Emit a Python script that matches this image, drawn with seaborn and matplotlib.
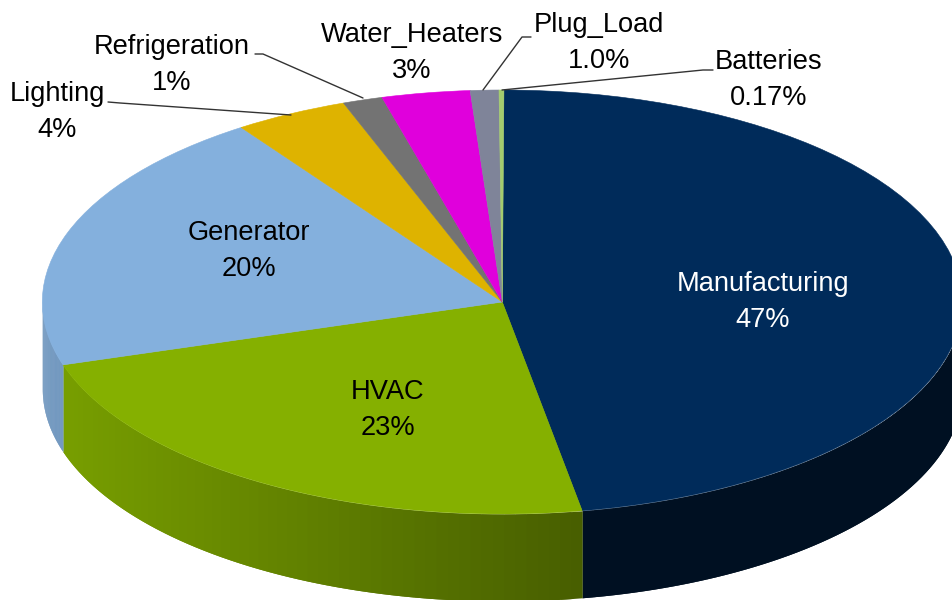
import numpy as np
import seaborn as sns
import matplotlib.pyplot as plt

# Values (slice angles), and the text shown on it
categories = ['Manufacturing', 'HVAC', 'Generator', 'Lighting', 'Refrigeration',
              'Water_Heaters', 'Plug_Load', 'Batteries']
values = [47.2, 23.0, 20.2, 4.0, 1.4, 3.1, 1.0, 0.17]
pct_labels = ['47%', '23%', '20%', '4%', '1%', '3%', '1.0%', '0.17%']
colors = ['#002B5A', '#85B000', '#84B0DD', '#DEB300', '#737373', '#E000DC', '#7F8499', '#A3CC6E']

# Shade of the side wall at the left and right end of each slice
wall_left = [0.38, 0.90, 0.87, 0.8, 0.8, 0.8, 0.8, 0.8]
wall_right = [0.38, 0.54, 0.87, 0.8, 0.8, 0.8, 0.8, 0.8]

# Pixel geometry of the pie
W, H = 952, 600
CX, CY, RX, RY = 502.3, 302, 460, 212
DEPTH = 87 / RY
START_ANGLE = 89.8


def px(x, y):
    return (x - CX) / RX, (CY - y) / RY


def draw_walls(ax):
    offset = np.radians(90 - START_ANGLE)
    edges = np.cumsum([0] + values) / sum(values) * 2 * np.pi + offset
    for i, color in enumerate(colors):
        lo, hi = max(edges[i], np.pi / 2), min(edges[i + 1], 3 * np.pi / 2)
        if hi <= lo:
            continue
        t = np.linspace(lo, hi, 60)
        x, y = np.sin(t), np.cos(t)
        xmin, xmax = x.min(), x.max()
        rgb = np.array(sns.color_palette([color])[0])
        # strips overlap the next one so no seams show; drawn so they end at the slice edge
        for k in range(len(t) - 1):
            f = (x[k] - xmin) / max(xmax - xmin, 1e-6)
            shade = wall_left[i] + (wall_right[i] - wall_left[i]) * f
            ax.fill_between(x[k:k + 3], y[k:k + 3], y[k:k + 3] - DEPTH,
                            color=rgb * shade, linewidth=0, zorder=1)


def draw_labels(ax):
    # (x, y) of the name line, in pixels; second line sits 36 px lower
    spots = [(763, 284), (388, 392), (248.5, 233), (57, 94),
             (172, 47), (412, 35), (599, 25), (769, 62)]
    for i, name in enumerate(categories):
        c = 'white' if name == 'Manufacturing' else 'black'
        x, y = spots[i]
        ax.text(*px(x, y), name, color=c, fontsize=19.6, ha='center', va='center', zorder=5)
        ax.text(*px(x, y + 36), pct_labels[i], color=c, fontsize=19.6,
                ha='center', va='center', zorder=5)


def draw_leaders(ax):
    leaders = [[(108, 102), (120, 103), (291, 115)],
               [(255, 54), (263, 54), (363, 98)],
               [(531, 37), (522, 37), (483, 90)],
               [(713, 70), (703, 70), (502, 90)]]
    for pts in leaders:
        xy = np.array([px(*p) for p in pts])
        ax.plot(xy[:, 0], xy[:, 1], color='#333333', linewidth=1, zorder=4)


def main():
    sns.set_theme(style='white')
    plt.rcParams['font.family'] = ['Liberation Sans', 'DejaVu Sans']

    fig = plt.figure(figsize=(W / 100, H / 100), dpi=100)
    ax = fig.add_axes([0, 0, 1, 1])

    draw_walls(ax)
    wedges, _ = ax.pie(values, colors=colors, startangle=START_ANGLE, counterclock=False, radius=1,
                       wedgeprops={'zorder': 3})
    for wedge, color in zip(wedges, colors):
        wedge.set_edgecolor(color)
        wedge.set_linewidth(0.4)

    ax.set_aspect('auto')
    ax.set_xlim(px(0, 0)[0], px(W, 0)[0])
    ax.set_ylim(px(0, H)[1], px(0, 0)[1])

    draw_leaders(ax)
    draw_labels(ax)

    fig.savefig('out.png', dpi=100)


if __name__ == "__main__":
    main()
